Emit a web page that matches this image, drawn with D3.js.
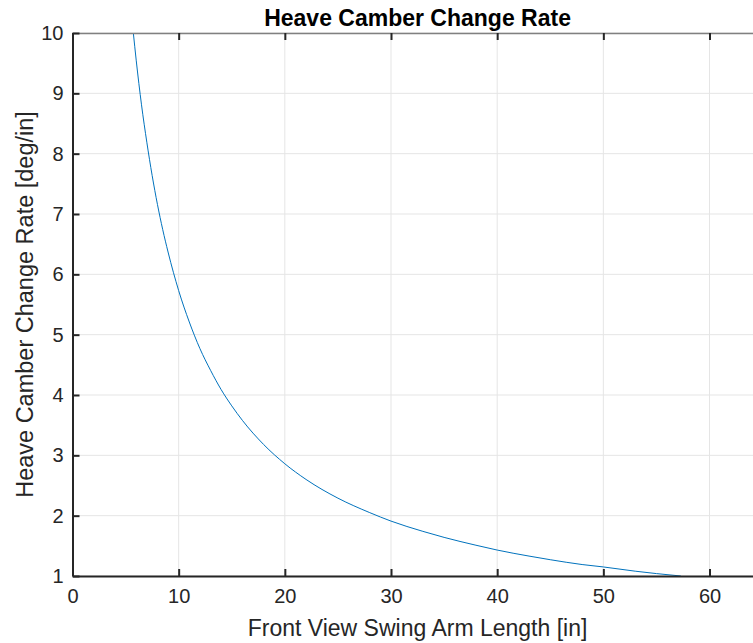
<!DOCTYPE html>
<html>
<head>
<meta charset="utf-8">
<script src="https://cdn.jsdelivr.net/npm/d3@7"></script>
<style>
  body { margin: 0; background: #fff; }
  svg { display: block; font-family: "Liberation Sans", Arial, sans-serif; }
</style>
</head>
<body>
<svg id="chart" width="753" height="643"></svg>
<script>
// swing arm length [in] and camber rate [deg/in]
var armLength = [5.73, 6, 6.5, 7, 7.5, 8, 8.5, 9, 10, 11, 12, 13, 14, 15, 16, 18, 20, 22, 25, 28, 30, 33, 35, 38, 40, 43, 45, 48, 50, 53, 55, 57.3];
var camberRate = [10, 9.55, 8.81, 8.19, 7.64, 7.16, 6.74, 6.37, 5.73, 5.21, 4.77, 4.41, 4.09, 3.82, 3.58, 3.18, 2.86, 2.60, 2.29, 2.05, 1.91, 1.74, 1.64, 1.51, 1.43, 1.33, 1.27, 1.19, 1.15, 1.08, 1.04, 1.0];
var xTicks = [0, 10, 20, 30, 40, 50, 60];
var yTicks = [1, 2, 3, 4, 5, 6, 7, 8, 9, 10];

var margin = {top: 33, left: 72.5, bottom: 67};
var svg = d3.select("#chart");
var H = 643;

var x = d3.scaleLinear().domain([0, 65]).range([margin.left, margin.left + 65 * 10.617]);
var y = d3.scaleLinear().domain([1, 10]).range([H - margin.bottom, margin.top]);

var axisColor = "#262626";

// grid
svg.append("g").selectAll("line.vg")
    .data(xTicks)
    .enter().append("line")
    .attr("x1", d => x(d)).attr("x2", d => x(d))
    .attr("y1", y(1)).attr("y2", y(10))
    .attr("stroke", "#e5e5e5").attr("stroke-width", 1);
svg.append("g").selectAll("line.hg")
    .data(yTicks)
    .enter().append("line")
    .attr("x1", x(0)).attr("x2", 753)
    .attr("y1", d => y(d)).attr("y2", d => y(d))
    .attr("stroke", "#e5e5e5").attr("stroke-width", 1);

// curve
svg.append("clipPath").attr("id", "clip")
    .append("rect")
    .attr("x", x(0)).attr("y", y(10))
    .attr("width", 753 - x(0)).attr("height", y(1) - y(10));

var line = d3.line()
    .x((d, i) => x(armLength[i]))
    .y(d => y(d))
    .curve(d3.curveMonotoneX);

svg.append("path")
    .datum(camberRate)
    .attr("clip-path", "url(#clip)")
    .attr("d", line)
    .attr("fill", "none")
    .attr("stroke", "#0072BD")
    .attr("stroke-width", 1);

// axes (ticks inward, matlab style)
var xAxis = d3.axisBottom(x).tickValues(xTicks).tickSize(-7).tickPadding(13).tickSizeOuter(0);
var gx = svg.append("g")
    .attr("transform", "translate(0," + y(1) + ")")
    .call(xAxis);
var xTop = d3.axisTop(x).tickValues(xTicks).tickSize(-7).tickFormat("").tickSizeOuter(0);
var gxt = svg.append("g")
    .attr("transform", "translate(0," + y(10) + ")")
    .call(xTop);
var yAxis = d3.axisLeft(y).tickValues(yTicks).tickSize(-7).tickPadding(9).tickSizeOuter(0);
var gy = svg.append("g")
    .attr("transform", "translate(" + x(0) + ",0)")
    .call(yAxis);

[gx, gxt, gy].forEach(function(g) {
    g.selectAll(".domain").attr("stroke", axisColor).attr("stroke-width", 2);
    g.selectAll(".tick line").attr("stroke", axisColor).attr("stroke-width", 2);
    g.selectAll(".tick text").attr("fill", axisColor)
        .style("font-size", "20px").style("font-family", "Liberation Sans, Arial, sans-serif");
});
gxt.select(".domain").attr("stroke", "#808080").attr("stroke-width", 1.5);

// labels
var midX = (x(0) + x(65)) / 2;
svg.append("text")
    .attr("x", midX).attr("y", 26)
    .attr("text-anchor", "middle")
    .attr("font-weight", "bold")
    .attr("font-size", "23px")
    .attr("fill", "#000")
    .text("Heave Camber Change Rate");

svg.append("text")
    .attr("x", midX).attr("y", 636)
    .attr("text-anchor", "middle")
    .attr("font-size", "23px")
    .attr("fill", axisColor)
    .text("Front View Swing Arm Length [in]");

svg.append("text")
    .attr("transform", "translate(32.5," + ((y(1) + y(10)) / 2) + ") rotate(-90)")
    .attr("text-anchor", "middle")
    .attr("font-size", "23.5px")
    .attr("fill", axisColor)
    .text("Heave Camber Change Rate [deg/in]");
</script>
</body>
</html>
